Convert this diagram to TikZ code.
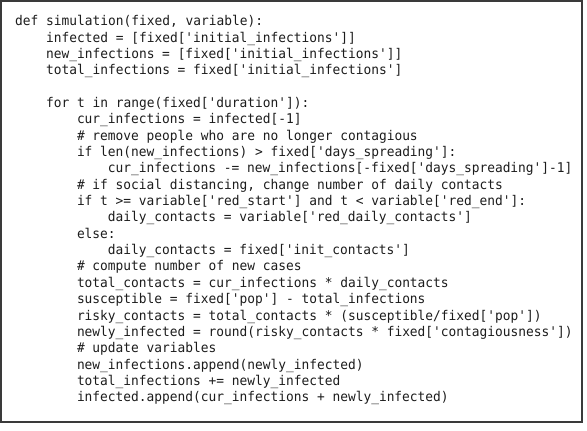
\documentclass[tikz,border=0pt]{standalone}
\usepackage{fontspec}
\setmonofont[FakeStretch=0.96]{DejaVu Sans Mono}
\usepackage{tikz}
\usepackage{xcolor}
\definecolor{CodeInk}{HTML}{1C1C1C}
\definecolor{FrameGray}{HTML}{3A3A3A}
\tikzset{
  codeline/.style={anchor=base west, inner sep=0pt, text=CodeInk,
    font=\ttfamily\fontsize{13.4}{16.35}\selectfont},
  frame/.style={draw=FrameGray, line width=1.5pt}
}

\begin{document}
\begin{tikzpicture}[x=1pt, y=-1pt]
			\useasboundingbox (0,0) rectangle (587,431);
			\draw[frame] (1,1) rectangle (582,422);
			% function header
			\node[codeline] (l0) at (15,25.7) {def simulation(fixed, variable):};
			\node[codeline] (l1) at (45.9,42.05) {infected = [fixed['initial\_infections']]};
			\node[codeline] (l2) at (45.9,58.4) {new\_infections = [fixed['initial\_infections']]};
			\node[codeline] (l3) at (45.9,74.75) {total\_infections = fixed['initial\_infections']};
			% loop over days
			\node[codeline] (l5) at (45.9,107.45) {for t in range(fixed['duration']):};
			\node[codeline] (l6) at (76.8,123.8) {cur\_infections = infected[-1]};
			\node[codeline] (l7) at (76.8,140.15) {\# remove people who are no longer contagious};
			\node[codeline] (l8) at (76.8,156.5) {if len(new\_infections) > fixed['days\_spreading']:};
			\node[codeline] (l9) at (107.6,172.85) {cur\_infections -= new\_infections[-fixed['days\_spreading']-1]};
			\node[codeline] (l10) at (76.8,189.2) {\# if social distancing, change number of daily contacts};
			\node[codeline] (l11) at (76.8,205.55) {if t >= variable['red\_start'] and t < variable['red\_end']:};
			\node[codeline] (l12) at (107.6,221.9) {daily\_contacts = variable['red\_daily\_contacts']};
			\node[codeline] (l13) at (76.8,238.25) {else:};
			\node[codeline] (l14) at (107.6,254.6) {daily\_contacts = fixed['init\_contacts']};
			\node[codeline] (l15) at (76.8,270.95) {\# compute number of new cases};
			\node[codeline] (l16) at (76.8,287.3) {total\_contacts = cur\_infections * daily\_contacts};
			\node[codeline] (l17) at (76.8,303.65) {susceptible = fixed['pop'] - total\_infections};
			\node[codeline] (l18) at (76.8,320) {risky\_contacts = total\_contacts * (susceptible/fixed['pop'])};
			\node[codeline] (l19) at (76.8,336.35) {newly\_infected = round(risky\_contacts * fixed['contagiousness'])};
			\node[codeline] (l20) at (76.8,352.7) {\# update variables};
			\node[codeline] (l21) at (76.8,369.05) {new\_infections.append(newly\_infected)};
			\node[codeline] (l22) at (76.8,385.4) {total\_infections += newly\_infected};
			\node[codeline] (l23) at (76.8,401.75) {infected.append(cur\_infections + newly\_infected)};
		\end{tikzpicture}
\end{document}
